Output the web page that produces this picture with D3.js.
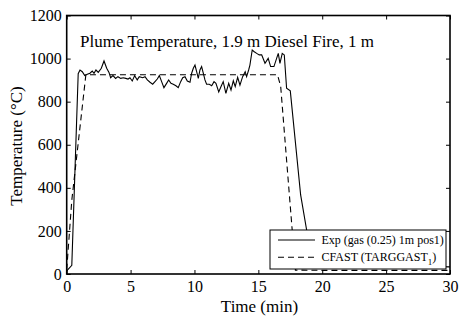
<!DOCTYPE html>
<html><head><meta charset="utf-8">
<script src="https://cdn.jsdelivr.net/npm/d3@7"></script>
<style>
body{margin:0;background:#fff;}
</style></head>
<body><svg id="c" width="461" height="320"></svg>
<script>
const xTicks=[0,5,10,15,20,25,30];
const yTicks=[0,200,400,600,800,1000,1200];
const expT=[0,0.4,0.9,1.04,1.22,1.41,1.61,1.82,2.0,2.14,2.29,2.47,2.71,2.92,3.13,3.31,3.44,3.62,3.83,4.01,4.23,4.43,4.62,4.8,4.95,5.13,5.32,5.52,5.68,5.95,6.13,6.31,6.52,6.73,6.91,7.09,7.25,7.43,7.61,7.82,7.98,8.16,8.34,8.55,8.73,8.92,9.08,9.26,9.44,9.65,9.78,9.91,10.04,10.17,10.3,10.43,10.56,10.69,10.82,10.95,11.16,11.35,11.53,11.68,11.9,12.08,12.25,12.46,12.68,12.86,13.04,13.19,13.38,13.56,13.77,13.97,14.08,14.24,14.34,14.52,14.68,14.87,15.07,15.26,15.52,15.77,15.96,16.22,16.43,16.56,16.69,16.87,17.03,17.21,17.5,18.31,18.78,19.3,20,22,25,30];
const expV=[15,40,930,947,939,921,927,932,942,932,947,936,955,989,955,936,911,921,908,916,908,911,908,905,911,896,921,901,916,911,916,901,890,881,893,905,921,893,865,885,901,885,881,874,865,893,911,916,896,890,932,955,970,939,908,947,963,932,901,881,881,874,893,885,845,870,893,839,885,854,897,870,913,877,916,939,916,947,970,1040,1032,1024,1017,1017,978,1001,963,963,1001,1024,978,1024,1017,862,850,367,204,100,60,45,38,33];
const cfT=[0,0.4,1.5,5,10,15,16.5,16.75,17.9,20,25,30];
const cfV=[20,343,925,925,925,925,925,870,18,17,17,17];
const title="Plume Temperature, 1.9 m Diesel Fire, 1 m";
const xLabel="Time (min)";
const yLabel="Temperature (°C)";
const legendNames=["Exp (gas (0.25) 1m pos1)","CFAST (TARGGAST","1",")"];

const FONT="'Liberation Serif', Tinos, 'Times New Roman', Times, 'DejaVu Serif', serif";
const svg=d3.select("#c");
const x=d3.scaleLinear([0,30],[66.7,450]);
const y=d3.scaleLinear([0,1200],[274,15.5]);
const fmt=d3.format("d");

const gx=svg.append("g").attr("transform","translate(0,274)")
 .call(d3.axisBottom(x).tickValues(xTicks).tickFormat(fmt).tickSizeInner(-4).tickSizeOuter(0).tickPadding(6.5));
const gy=svg.append("g").attr("transform","translate(66.7,0)")
 .call(d3.axisLeft(y).tickValues(yTicks).tickFormat(fmt).tickSizeInner(-4).tickSizeOuter(0).tickPadding(5));
const gt=svg.append("g").attr("transform","translate(0,15.5)")
 .call(d3.axisTop(x).tickValues(xTicks).tickSizeInner(-4).tickSizeOuter(0).tickFormat(""));
const gr=svg.append("g").attr("transform","translate(450,0)")
 .call(d3.axisRight(y).tickValues(yTicks).tickSizeInner(-4).tickSizeOuter(0).tickFormat(""));
[gx,gy,gt,gr].forEach(g=>{g.attr("font-family",FONT).attr("font-size",16);
 g.select(".domain").remove();g.selectAll("line").attr("stroke","#000").attr("stroke-width",1);
 g.selectAll("text").attr("fill","#000");});

svg.append("rect").attr("x",66.7).attr("y",15.5).attr("width",450-66.7).attr("height",274-15.5)
 .attr("fill","none").attr("stroke","#000").attr("stroke-width",1.6);

const line=d3.line().x(d=>x(d[0])).y(d=>y(d[1]));
svg.append("path").datum(cfT.map((t,i)=>[t,cfV[i]])).attr("d",line)
 .attr("fill","none").attr("stroke","#000").attr("stroke-width",1.1).attr("stroke-dasharray","6,4");
svg.append("path").datum(expT.map((t,i)=>[t,expV[i]])).attr("d",line)
 .attr("fill","none").attr("stroke","#000").attr("stroke-width",1.1);

const txt=(sel)=>sel.attr("font-family",FONT).attr("fill","#000");
txt(svg.append("text")).attr("x",80).attr("y",47).attr("font-size",17).text(title);
txt(svg.append("text")).attr("x",259.5).attr("y",311.5).attr("text-anchor","middle").attr("font-size",17).text(xLabel);
txt(svg.append("text")).attr("transform","translate(22,146) rotate(-90)").attr("text-anchor","middle").attr("font-size",17).text(yLabel);

const lg=svg.append("g");
lg.append("rect").attr("x",270).attr("y",230).attr("width",176).attr("height",39)
 .attr("fill","#fff").attr("stroke","#000").attr("stroke-width",1);
lg.append("line").attr("x1",278).attr("x2",315).attr("y1",240).attr("y2",240).attr("stroke","#000").attr("stroke-width",1.1);
lg.append("line").attr("x1",278).attr("x2",315).attr("y1",257.3).attr("y2",257.3).attr("stroke","#000").attr("stroke-width",1.1).attr("stroke-dasharray","6,4");
txt(lg.append("text")).attr("x",321.5).attr("y",244).attr("font-size",12).text(legendNames[0]);
const t2=txt(lg.append("text")).attr("x",321.5).attr("y",261).attr("font-size",12);
t2.append("tspan").text(legendNames[1]);
t2.append("tspan").attr("dy",4).attr("font-size",9).text(legendNames[2]);
t2.append("tspan").attr("dy",-4).text(legendNames[3]);
</script></body></html>
